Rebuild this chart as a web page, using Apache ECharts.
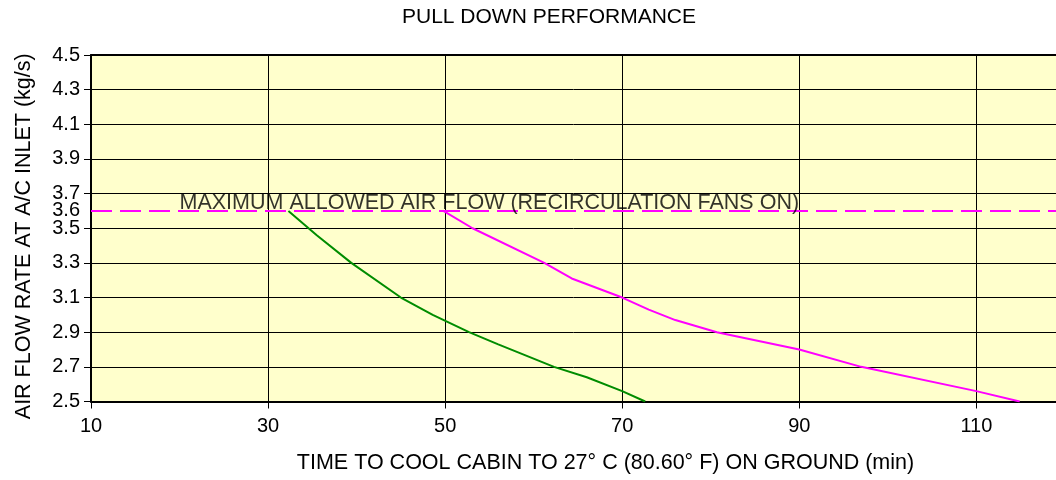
<!DOCTYPE html>
<html>
<head>
<meta charset="utf-8">
<script src="https://cdn.jsdelivr.net/npm/echarts@6/dist/echarts.min.js"></script>
<style>html,body{margin:0;padding:0;background:#fff}#c{width:1056px;height:480px}</style>
</head>
<body>
<div id="c"></div>
<script>
// ---- data ----
const titleText = 'PULL DOWN PERFORMANCE';
const xAxisTitle = 'TIME TO COOL CABIN TO 27\u00B0 C (80.60\u00B0 F) ON GROUND (min)';
const yAxisTitle = 'AIR FLOW RATE AT A/C INLET (kg/s)';
const xTickLabels = [10, 30, 50, 70, 90, 110];
const yTickLabels = [2.5, 2.7, 2.9, 3.1, 3.3, 3.5, 3.6, 3.7, 3.9, 4.1, 4.3, 4.5];
const xRange = [10, 119.0];
const yRange = [2.5, 4.5];

const greenTime = [32.3, 35.5, 39.4, 45.0, 48.6, 52.7, 56.0, 62.3, 66.0, 70.0, 72.6];
const greenFlow = [3.60, 3.46, 3.30, 3.10, 3.00, 2.90, 2.83, 2.70, 2.64, 2.56, 2.50];

const magentaTime = [49.8, 53.1, 61.2, 64.3, 70.0, 73.0, 76.0, 80.7, 90.0, 97.0, 110.0, 114.9];
const magentaFlow = [3.60, 3.50, 3.30, 3.21, 3.10, 3.03, 2.97, 2.90, 2.80, 2.70, 2.56, 2.50];

const maxFlow = 3.6;
const maxFlowLabel = 'MAXIMUM ALLOWED AIR FLOW (RECIRCULATION FANS ON)';
const maxFlowLabelTime = 20;

// ---- chart ----
const FONT = '"Liberation Sans", Arial, Helvetica, sans-serif';
const zip = (a, b) => a.map((v, i) => [v, b[i]]);

const chart = echarts.init(document.getElementById('c'), null, {renderer: 'canvas'});
chart.setOption({
  animation: false,
  backgroundColor: '#ffffff',
  textStyle: {fontFamily: FONT},
  title: {
    text: titleText, left: 402, top: 7, padding: 0,
    textStyle: {fontFamily: FONT, fontSize: 21, fontWeight: 'normal', color: '#000'}
  },
  grid: {left: 91, right: -2, top: 55, bottom: 78.5, show: true, backgroundColor: '#ffffcc', borderWidth: 0},
  xAxis: [{
    type: 'value', min: xRange[0], max: xRange[1], interval: 20,
    name: xAxisTitle, nameLocation: 'middle', nameGap: 51,
    nameTextStyle: {fontFamily: FONT, fontSize: 21.5, color: '#000', padding: [0, 0, 0, 64]},
    axisLine: {show: true, onZero: false, lineStyle: {color: '#000', width: 2}},
    axisTick: {show: true, length: 7, lineStyle: {color: '#000', width: 1}, customValues: xTickLabels},
    axisLabel: {color: '#000', fontSize: 20, fontFamily: FONT, margin: 15, customValues: xTickLabels},
    splitLine: {show: true, lineStyle: {color: '#000', width: 1}}
  }, {
    type: 'value', position: 'top', min: xRange[0], max: xRange[1],
    axisLine: {show: true, lineStyle: {color: '#000', width: 2}},
    axisTick: {show: false}, axisLabel: {show: false}, splitLine: {show: false}
  }],
  yAxis: {
    type: 'value', min: yRange[0], max: yRange[1], interval: 0.2,
    name: yAxisTitle, nameLocation: 'middle', nameGap: 56, nameRotate: 90,
    nameTextStyle: {fontFamily: FONT, fontSize: 21.5, color: '#000', padding: [0, 16, 0, 0]},
    axisLine: {show: true, onZero: false, lineStyle: {color: '#000', width: 2}},
    axisTick: {show: true, length: 7, lineStyle: {color: '#000', width: 1}},
    axisLabel: {color: '#000', fontSize: 20, fontFamily: FONT, margin: 11,
      customValues: yTickLabels, formatter: v => v.toFixed(1)},
    splitLine: {show: true, lineStyle: {color: '#000', width: 1}}
  },
  series: [
    {
      type: 'line', data: zip(greenTime, greenFlow), symbol: 'none',
      lineStyle: {color: '#008c00', width: 2}, z: 4
    },
    {
      type: 'line', data: zip(magentaTime, magentaFlow), symbol: 'none',
      lineStyle: {color: '#ff00ff', width: 2}, z: 4
    },
    {
      type: 'line', data: [[xRange[0], maxFlow], [xRange[1], maxFlow]], symbol: 'none',
      lineStyle: {color: '#ff00ff', width: 2, type: [21, 8]}, z: 3
    },
    {
      type: 'scatter', data: [[maxFlowLabelTime, maxFlow]], symbolSize: 0, z: 5,
      label: {show: true, position: 'top', align: 'left', distance: -3,
        formatter: maxFlowLabel, color: '#000', textBorderWidth: 0,
        fontSize: 21.5, fontFamily: FONT}
    }
  ]
});
</script>
</body>
</html>
